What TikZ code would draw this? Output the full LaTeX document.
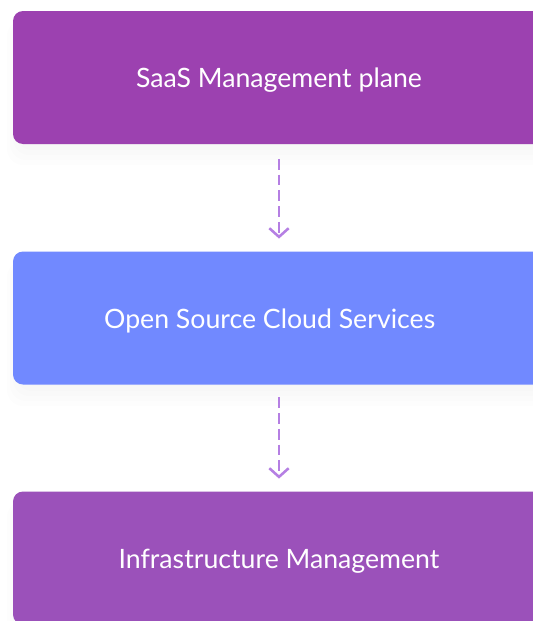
\documentclass[tikz,border=0pt]{standalone}
\usepackage{fontspec}
\setmainfont{Lato}
\usetikzlibrary{arrows.meta}
\definecolor{saaspurple}{HTML}{9C41B0}
\definecolor{ossblue}{HTML}{7189FF}
\definecolor{infrapurple}{HTML}{9B51BA}
\definecolor{flowlilac}{HTML}{B57FE3}
\tikzset{
  layer/.style={rounded corners=7.5pt, minimum width=399pt, minimum height=99.75pt,
    text=white, font=\fontsize{20}{24}\selectfont, inner sep=0pt,
    text height=15pt, text depth=0pt},
  flow/.style={flowlilac, line width=1.9pt, dash pattern=on 8pt off 3.8pt,
    -{Straight Barb[length=6.5pt,width=14.5pt,line width=1.9pt]}}
}
\begin{document}
\begin{tikzpicture}[x=0.75pt,y=-0.75pt]
  %%%%% START %%%%%
  \useasboundingbox[fill=white] (0,0) rectangle (532,621);

  % soft shadows under the layers
  \foreach \top in {10,251,491}{
    \foreach \k in {1,...,5}{
      \fill[black, opacity=0.008, rounded corners=12pt] (12+10-\k*3,\top+10) rectangle (560,\top+130+\k*5);
    }
  }

  \node[layer, fill=saaspurple]  (saas)  at (279,77.5) {SaaS Management plane};
  \node[layer, fill=ossblue]     (oss)   at (279,318)  {\kern-14pt Open Source Cloud Services};
  \node[layer, fill=infrapurple] (infra) at (279,558)  {Infrastructure Management};

  \draw[flow, shorten <=11pt, shorten >=9.5pt] (saas.south) -- (oss.north);
  \draw[flow, shorten <=9.5pt, shorten >=9.5pt] (oss.south) -- (infra.north);
  %%%%% END %%%%%
\end{tikzpicture}
\end{document}
